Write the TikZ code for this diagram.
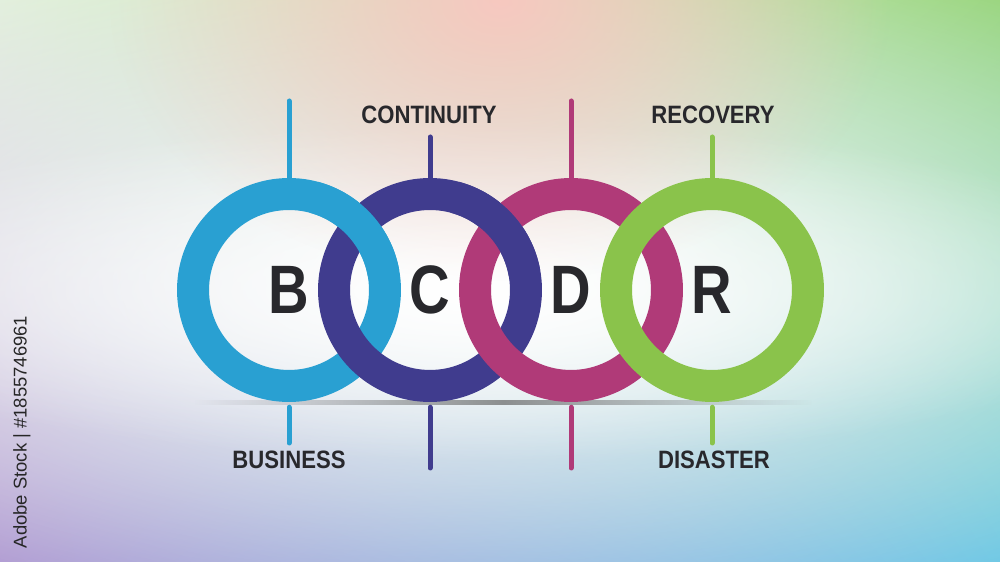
\documentclass[tikz,border=0pt]{standalone}
\usepackage{fontspec}
\setmainfont{Liberation Sans}
\newfontfamily\wordfont[FakeStretch=0.88]{Liberation Sans}
\newfontfamily\letterfont[FakeStretch=0.82]{Liberation Sans}
\usetikzlibrary{fadings,shadings}

\definecolor{ringblue}{RGB}{41,160,210}
\definecolor{ringpurple}{RGB}{64,60,142}
\definecolor{ringmagenta}{RGB}{176,58,120}
\definecolor{ringgreen}{RGB}{138,195,75}
\definecolor{inkdark}{RGB}{40,40,44}
\definecolor{bgTL}{RGB}{224,238,218}
\definecolor{bgTR}{RGB}{150,212,122}
\definecolor{bgBL}{RGB}{172,150,208}
\definecolor{bgBR}{RGB}{105,198,228}
\definecolor{bgpink}{RGB}{247,200,192}

\tikzfading[name=softspot, inner color=transparent!0, outer color=transparent!100]
\tikzfading[name=fadesides, left color=transparent!100, right color=transparent!100, middle color=transparent!30]

\begin{document}
\begin{tikzpicture}[x=0.02cm, y=0.02cm,
    ring/.style={circle, draw=#1, line width=0.64cm, minimum size=3.84cm, inner sep=0pt,
      text=inkdark, font=\letterfont\fontsize{39}{39}\selectfont\bfseries},
    band/.style={draw=#1, line width=0.64cm},
    stem/.style={draw=#1, line width=0.1cm, line cap=round},
    word/.style={text=inkdark, font=\wordfont\fontsize{14.3}{14.3}\selectfont\bfseries}]
    % Background
    \useasboundingbox (0,0) rectangle (1000,561);
    \shade[upper left=bgTL, upper right=bgTR, lower left=bgBL, lower right=bgBR] (0,0) rectangle (1000,561);
    \fill[white, path fading=softspot] (-450,-90) rectangle (1400,650);
    \fill[white, opacity=0.9, path fading=softspot] (-250,100) rectangle (1200,440);
    \fill[bgpink, path fading=softspot] (110,280) rectangle (890,840);

    % Shadow under the rings
    \fill[black!60, path fading=fadesides] (195,156) rectangle (812,161);

    % Rings
    \node[ring=ringblue] (ringB) at (289,271) {B};
    \node[ring=ringpurple] (ringC) at (430,271) {C};
    \node[ring=ringmagenta] (ringD) at (571,271) {D};
    \node[ring=ringgreen] (ringR) at (712,271) {R};

    % Upper crossings: left ring on top
    \draw[band=ringblue] ([shift={(10:1.92cm)}]ringB.center) arc[start angle=10, end angle=75, radius=1.92cm];
    \draw[band=ringpurple] ([shift={(10:1.92cm)}]ringC.center) arc[start angle=10, end angle=75, radius=1.92cm];

    % Labels
    \node[word] (lblContinuity) at (429,446) {CONTINUITY};
    \node[word] (lblRecovery) at (713,446) {RECOVERY};
    \node[word] (lblBusiness) at (289,101) {BUSINESS};
    \node[word] (lblDisaster) at (714,101) {DISASTER};

    % Stem ends
    \coordinate (topB) at (289,460);
    \coordinate (topC) at (430,424);
    \coordinate (topD) at (571,460);
    \coordinate (topR) at (712,424);
    \coordinate (botB) at (289,118);
    \coordinate (botC) at (430,93);
    \coordinate (botD) at (571,93);
    \coordinate (botR) at (712,118);

    % Stems
    \draw[stem=ringblue] (ringB.north) -- (topB);
    \draw[stem=ringpurple] (ringC.north) -- (topC);
    \draw[stem=ringmagenta] (ringD.north) -- (topD);
    \draw[stem=ringgreen] (ringR.north) -- (topR);
    \draw[stem=ringblue] ([yshift=-3pt]ringB.south) -- (botB);
    \draw[stem=ringpurple] ([yshift=-3pt]ringC.south) -- (botC);
    \draw[stem=ringmagenta] ([yshift=-3pt]ringD.south) -- (botD);
    \draw[stem=ringgreen] ([yshift=-3pt]ringR.south) -- (botR);

    % Side tag
    \node[rotate=90, text=black!85, font=\fontsize{10.5}{10.5}\selectfont] (stockTag) at (22,129) {Adobe Stock | \#1855746961};
\end{tikzpicture}
\end{document}
